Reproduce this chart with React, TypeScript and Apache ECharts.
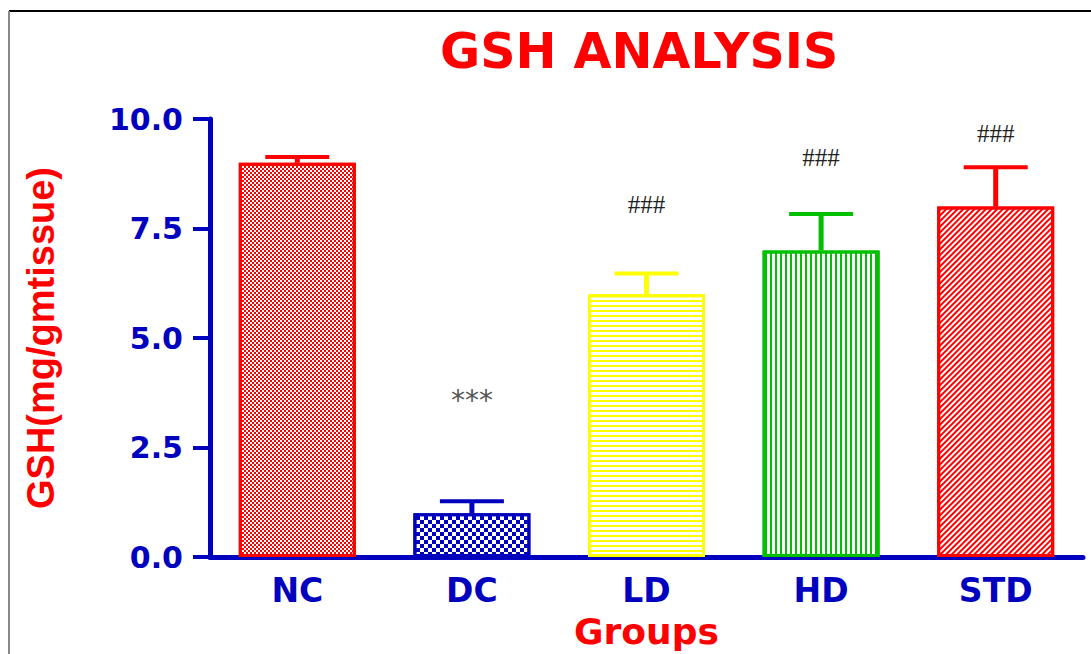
import React, { useEffect, useRef } from "react";
import * as echarts from "echarts";

const categories = ["NC", "DC", "LD", "HD", "STD"];
const means = [9.0, 1.0, 6.0, 7.0, 8.0];
const errors = [0.13, 0.27, 0.47, 0.83, 0.9];
const marks = ["", "***", "###", "###", "###"];
const markPositions = [0, 3.58, 8.04, 9.13, 9.68];

const BLUE = "#0000BF";
const RED = "#FF0000";
const barColors = [RED, BLUE, "#FFFF00", "#00C000", RED];
const decals: any[] = [
  { symbol: "rect", dashArrayX: [[2, 2], [0, 2, 2, 0]], dashArrayY: [2, 0] },
  { symbol: "rect", dashArrayX: [[4, 4], [0, 4, 4, 0]], dashArrayY: [4, 0] },
  { symbol: "rect", dashArrayX: [1, 0], dashArrayY: [2, 2.5] },
  { symbol: "rect", dashArrayX: [2, 3], dashArrayY: [1, 0] },
  { symbol: "rect", dashArrayX: [1, 0], dashArrayY: [1.2, 2], rotation: -Math.PI / 4 },
];

export default function App() {
  const ref = useRef<HTMLDivElement>(null);
  useEffect(() => {
    if (!ref.current) return;
    const chart = echarts.init(ref.current, null, { renderer: "svg" });
    const option: any = {
      animation: false,
      backgroundColor: "#ffffff",
      title: {
        text: "GSH ANALYSIS",
        left: 435,
        top: 22,
        textStyle: {
          color: RED,
          fontFamily: "DejaVu Sans",
          fontWeight: "bold",
          fontSize: 49,
        },
      },
      graphic: [
        { type: "line", shape: { x1: 9, y1: 11, x2: 1091, y2: 11 }, style: { stroke: "#000", lineWidth: 2 } },
        { type: "line", shape: { x1: 9, y1: 11, x2: 9, y2: 654 }, style: { stroke: "#888", lineWidth: 2 } },
      ],
      grid: { left: 210, right: 8, top: 119, bottom: 97, containLabel: false, outerBoundsMode: "none" },
      xAxis: {
        type: "category",
        data: categories,
        name: "Groups",
        nameLocation: "middle",
        nameGap: 56,
        nameTextStyle: { color: RED, fontFamily: "DejaVu Sans", fontWeight: "bold", fontSize: 36 },
        axisLine: { lineStyle: { color: BLUE, width: 5, cap: "round" } },
        axisTick: { show: false },
        axisLabel: {
          color: BLUE,
          fontFamily: "DejaVu Sans",
          fontWeight: "bold",
          fontSize: 33,
          margin: 17,
        },
      },
      yAxis: {
        type: "value",
        min: 0,
        max: 10,
        interval: 2.5,
        name: "GSH(mg/gmtissue)",
        nameLocation: "middle",
        nameGap: 150,
        nameTextStyle: { color: RED, fontFamily: "Liberation Sans", fontWeight: "bold", fontSize: 38 },
        axisLine: { show: true, lineStyle: { color: BLUE, width: 5 } },
        axisTick: { show: true, length: 17, lineStyle: { color: BLUE, width: 4 } },
        splitLine: { show: false },
        axisLabel: {
          color: BLUE,
          fontFamily: "DejaVu Sans",
          fontWeight: "bold",
          fontSize: 30,
          margin: 27,
          formatter: (v: number) => v.toFixed(1),
        },
      },
      series: [
        {
          type: "bar",
          barWidth: 117,
          data: means.map((v, i) => ({
            value: v,
            itemStyle: {
              color: "#ffffff",
              borderColor: barColors[i],
              borderWidth: 3,
              decal: { ...decals[i], color: barColors[i] },
            },
          })),
          z: 2,
        },
        {
          type: "custom",
          z: 3,
          data: means.map((v, i) => [i, v, v + errors[i]]),
          encode: { x: 0, y: [1, 2] },
          renderItem: (params: any, api: any) => {
            const i = api.value(0);
            const base = api.coord([i, api.value(1)]);
            const top = api.coord([i, api.value(2)]);
            const c = barColors[i];
            return {
              type: "group",
              children: [
                { type: "line", shape: { x1: base[0], y1: base[1], x2: top[0], y2: top[1] }, style: { stroke: c, lineWidth: 5 } },
                { type: "line", shape: { x1: top[0] - 32, y1: top[1], x2: top[0] + 32, y2: top[1] }, style: { stroke: c, lineWidth: 4 } },
              ],
            };
          },
        },
        {
          type: "custom",
          z: 4,
          data: marks.map((m, i) => [i, markPositions[i]]),
          encode: { x: 0, y: 1 },
          renderItem: (params: any, api: any) => {
            const i = api.value(0);
            const text = marks[i];
            if (!text) return null;
            const p = api.coord([i, api.value(1)]);
            return {
              type: "text",
              x: p[0],
              y: p[1],
              style: {
                text,
                fill: text === "***" ? "#555" : "#222",
                font: text === "***" ? 'normal 28px "DejaVu Sans"' : 'normal 25px "Liberation Serif"',
                align: "center",
                verticalAlign: "middle",
              },
            };
          },
        },
      ],
    };
    chart.setOption(option);
    return () => chart.dispose();
  }, []);
  return (
    <div
      ref={ref}
      style={{ position: "absolute", left: 0, top: 0, width: 1091, height: 654 }}
    />
  );
}
